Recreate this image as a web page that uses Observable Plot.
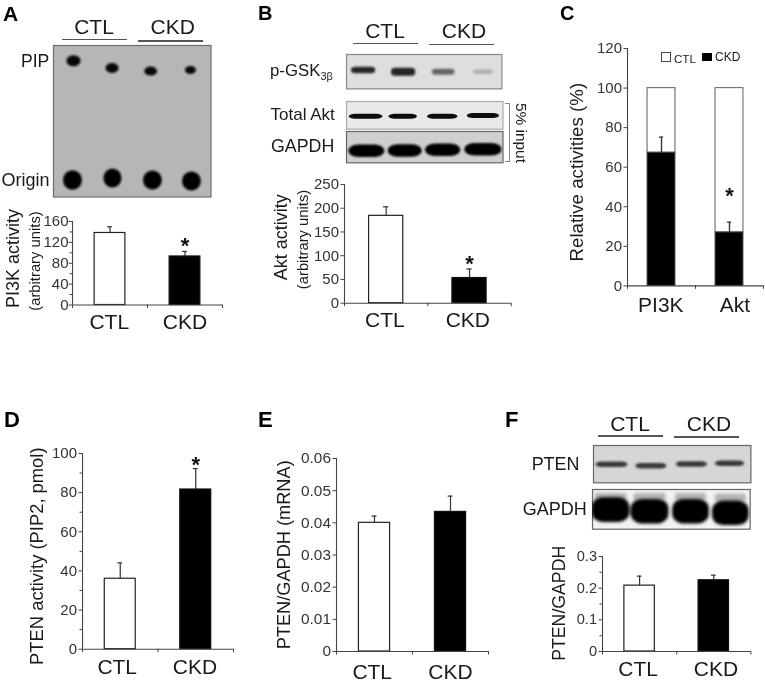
<!DOCTYPE html>
<html>
<head>
<meta charset="utf-8">
<script src="https://cdn.jsdelivr.net/npm/d3@7"></script>
<script src="https://cdn.jsdelivr.net/npm/@observablehq/plot@0.6"></script>
<style>
html,body{margin:0;padding:0;background:#fff;}
#page{position:relative;width:765px;height:681px;overflow:hidden;font-family:"Liberation Sans",Arial,sans-serif;color:#1a1a1a;filter:blur(0.35px);}
#page svg{position:absolute;background:transparent;overflow:visible;}
.t{position:absolute;white-space:nowrap;line-height:1;}
.r{position:absolute;background:#555;}
</style>
</head>
<body>
<div id="page"></div>
<script>
// ---------- chart data ----------
const groups = ["CTL", "CKD"];
const pi3kActivity = [138, 93];
const pi3kUpper = [150, 102.6];
const aktActivity = [184, 53];
const aktUpper = [203, 72];
const relativeCkd = [67.3, 27];
const relativeUpper = [75.2, 32.2];
const relativeGroups = ["PI3K", "Akt"];
const ptenActivity = [36, 81.6];
const ptenActivityUpper = [44.1, 92.3];
const ptenMrna = [0.04, 0.0434];
const ptenMrnaUpper = [0.0421, 0.0483];
const ptenProtein = [0.208, 0.225];
const ptenProteinUpper = [0.238, 0.241];

// ---------- blot readings: lane (0-4), migration (0-1), band width, thickness, darkness ----------
const pipLane = [0.52, 1.5, 2.48, 3.49], pipRun = [0.104, 0.152, 0.172, 0.165], pipW = [0.36, 0.33, 0.33, 0.28], pipH = [0.073, 0.066, 0.059, 0.053];
const originLane = [0.495, 1.51, 2.525, 3.515], originRun = [0.891, 0.878, 0.891, 0.898], originW = [0.48, 0.46, 0.48, 0.48], originH = [0.13, 0.125, 0.125, 0.125];
const gskLane = [0.44, 1.47, 2.5, 3.53], gskRun = [0.465, 0.515, 0.515, 0.515], gskW = [0.62, 0.62, 0.59, 0.51], gskH = [0.19, 0.23, 0.17, 0.13], gskDark = [0.85, 0.85, 0.6, 0.32];
const aktLane = [0.5, 1.45, 2.46, 3.5], aktRun = [0.55, 0.55, 0.55, 0.52], aktW = [0.85, 0.72, 0.77, 0.82];
const gapdhBLane = [0.52, 1.5, 2.47, 3.5], gapdhBRun = [0.63, 0.62, 0.6, 0.585], gapdhBW = [0.92, 0.87, 0.9, 0.95];
const ptenLane = [0.47, 1.47, 2.5, 3.47], ptenRun = [0.517, 0.555, 0.51, 0.49], ptenW = [0.81, 0.79, 0.79, 0.74];
const gapdhFLane = [0.47, 1.46, 2.5, 3.51], gapdhFRun = [0.52, 0.56, 0.56, 0.6], gapdhFW = [0.96, 0.96, 0.93, 0.93], gapdhFUpperRun = [0.2, 0.2, 0.2, 0.22];

const page = document.getElementById("page");
const FONT = '"Liberation Sans", Arial, sans-serif';

function bandTable(lane, run, w, h, dark) {
  return lane.map((l, i) => ({
    x1: l - w[i] / 2, x2: l + w[i] / 2,
    y1: run[i] - (Array.isArray(h) ? h[i] : h) / 2, y2: run[i] + (Array.isArray(h) ? h[i] : h) / 2,
    g: Math.round(255 * (1 - (Array.isArray(dark) ? dark[i] : dark)))
  }));
}

function text(str, x, baseline, size, o = {}) {
  const el = document.createElement("div");
  el.className = "t";
  el.innerHTML = str;
  el.style.fontSize = size + "px";
  el.style.top = (baseline - 0.8465 * size) + "px";
  if (o.center) { el.style.left = x + "px"; el.style.transform = "translateX(-50%)"; }
  else el.style.left = x + "px";
  if (o.weight) el.style.fontWeight = o.weight;
  if (o.color) el.style.color = o.color;
  page.appendChild(el);
  return el;
}
function rotText(str, cx, cy, size) {
  const el = document.createElement("div");
  el.className = "t";
  el.textContent = str;
  el.style.fontSize = size + "px";
  el.style.left = cx + "px";
  el.style.top = cy + "px";
  el.style.transform = "translate(-50%,-50%) rotate(90deg)";
  page.appendChild(el);
}
function rule(x, y, w, h, color = "#555") {
  const el = document.createElement("div");
  el.className = "r";
  el.style.cssText += `left:${x}px;top:${y}px;width:${w}px;height:${h}px;background:${color};`;
  page.appendChild(el);
  return el;
}
function header(ctlX, ckdX, baseline, ctlLine, ckdLine, lineY, lineY2) {
  text("CTL", ctlX, baseline, 21, {center: true});
  text("CKD", ckdX, baseline, 21, {center: true});
  rule(ctlLine[0], lineY, ctlLine[1] - ctlLine[0], 1.3);
  rule(ckdLine[0], lineY2, ckdLine[1] - ckdLine[0], 1.3);
}

function blot({left, right, top, bottom, fill, stroke = "#777", layers}) {
  const W = right - left, H = bottom - top;
  const svg = Plot.plot({
    width: W + 2, height: H + 2, margin: 1,
    x: {domain: [0, 4], axis: null},
    y: {domain: [1, 0], axis: null},
    color: {type: "identity"},
    marks: [
      Plot.frame({fill, stroke, strokeWidth: 1.2}),
      ...layers.map(({data, blur, rx = 60, ry = 60}) => Plot.rect(data, {
        x1: "x1", x2: "x2", y1: "y1", y2: "y2",
        fill: d => `rgb(${d.g},${d.g},${d.g})`,
        rx, ry, clip: true,
        imageFilter: `blur(${blur}px)`
      }))
    ]
  });
  svg.style.left = (left - 1) + "px";
  svg.style.top = (top - 1) + "px";
  page.appendChild(svg);
}

function barPanel(o) {
  const ml = 78, mr = 8, mt = 12, mb = 36;
  const plotW = o.right - o.axis, plotH = o.y0 - o.top;
  const rows = o.values.map((v, i) => ({
    name: o.labels[i], v, up: o.upper[i], i,
    x1: i + 0.295, x2: i + 0.705, cx: i + 0.5,
    capL: i + 0.5 - 0.032, capR: i + 0.5 + 0.032
  }));
  const marks = [];
  marks.push(Plot.ruleX(rows, {x: "cx", y1: "v", y2: "up", stroke: "#333", strokeWidth: 1.2}));
  marks.push(Plot.ruleY(rows, {y: "up", x1: "capL", x2: "capR", stroke: "#333", strokeWidth: 1.2}));
  if (o.stacked) {
    marks.push(Plot.rectY(rows, {x1: "x1", x2: "x2", y1: "v", y2: () => 100, fill: "none", stroke: "#777", strokeWidth: 1.2}));
    marks.push(Plot.rectY(rows, {x1: "x1", x2: "x2", y1: () => 0, y2: "v", fill: "#000", stroke: "#444", strokeWidth: 1}));
    marks.push(Plot.ruleX(rows, {x: "cx", y1: "v", y2: "up", stroke: "#333", strokeWidth: 1.2}));
  } else {
    marks.push(Plot.rectY(rows, {x1: "x1", x2: "x2", y1: () => 0, y2: "v",
      fill: d => d.i === 0 ? "#fff" : "#000", stroke: d => d.i === 0 ? "#222" : "#111", strokeWidth: 1.2}));
  }
  marks.push(
    Plot.ruleX([0], {stroke: "#444", strokeWidth: 1.1}),
    Plot.ruleY([0], {stroke: "#444", strokeWidth: 1.1}),
    Plot.axisX([0, 1, 2], {tickSize: 3.5, text: null, label: null, stroke: "#444"}),
    Plot.axisY(o.ticks, {tickSize: 3.5, tickPadding: o.tickPad ?? 2, fontSize: o.tickFont, label: null, stroke: "#444", color: "#333", tickFormat: o.fmt})
  );
  if (o.minor) marks.push(Plot.axisY(o.minor, {tickSize: 2.5, text: null, label: null, stroke: "#444"}));
  marks.push(Plot.text(rows, {
    x: (d, i) => o.labelAt[i], text: "name", frameAnchor: "bottom", lineAnchor: "bottom",
    dy: o.labelDy, fontSize: 21, fill: "#1a1a1a"
  }));
  if (o.star) marks.push(Plot.text(["*"], {
    x: () => o.star[0], y: () => o.star[1], text: d => d, fontSize: 22, fontWeight: "bold", dy: 5.7, fill: "#111"
  }));
  for (const [label, cx, cy, size] of o.yLabels) {
    marks.push(Plot.text([label], {
      frameAnchor: "top-left", text: d => d, rotate: -90, fontSize: size, fill: "#1a1a1a",
      dx: cx - o.axis, dy: cy - o.top, textAnchor: "middle", lineAnchor: "middle"
    }));
  }
  const svg = Plot.plot({
    width: plotW + ml + mr, height: plotH + mt + mb,
    marginLeft: ml, marginRight: mr, marginTop: mt, marginBottom: mb,
    x: {domain: [0, 2], label: null, axis: null},
    y: {domain: [0, o.ymax], label: null, axis: null},
    style: {fontFamily: FONT, background: "transparent"},
    marks
  });
  svg.style.left = (o.axis - ml) + "px";
  svg.style.top = (o.top - mt) + "px";
  page.appendChild(svg);
}

// ---------- panel letters ----------
[["A", 3, 20.5, 21], ["B", 258, 19.5, 20], ["C", 560, 19.5, 20], ["D", 4, 428, 22], ["E", 258, 428, 22], ["F", 505, 428, 22]]
  .forEach(([s, x, y, size]) => text(s, x, y, size, {weight: "bold", color: "#000"}));

// ---------- Panel A ----------
header(94, 172.7, 34, [62, 127], [138, 203], 39.2, 40.4);
blot({left: 52.5, right: 210, top: 45, bottom: 196.5, fill: "#b6b6b6", stroke: "#6e6e6e", layers: [
  {data: bandTable(pipLane, pipRun, pipW, pipH, 0.97), blur: 1},
  {data: bandTable(originLane, originRun, originW, originH, 1), blur: 1.2}
]});
text("PIP", 21, 68, 17.6);
text("Origin", 1.5, 186, 18);
barPanel({
  axis: 72, right: 222, top: 221, y0: 304.5, ymax: 160, tickPad: 0.5,
  values: pi3kActivity, upper: pi3kUpper, labels: groups, labelAt: [0.49, 1.5], labelDy: 24,
  ticks: [0, 40, 80, 120, 160], minor: [20, 60, 100, 140], fmt: d => String(d), tickFont: 15,
  star: [1.5, 123.6],
  yLabels: [["PI3K activity", 12.5, 258, 18], ["(arbitrary units)", 35, 260.5, 14.8]]
});

// ---------- Panel B ----------
header(385, 464, 38, [353, 417.7], [429, 494], 43, 43.6);
blot({left: 346.3, right: 501.7, top: 54.3, bottom: 88.7, fill: "#dedede", stroke: "#888", layers: [
  {data: bandTable(gskLane, gskRun, gskW, gskH, gskDark), blur: 0.9, rx: 4, ry: 3}
]});
blot({left: 345.5, right: 502, top: 101, bottom: 128.7, fill: "#e9e9e9", stroke: "#aaa", layers: [
  {data: bandTable(aktLane, aktRun, aktW, 0.18, 0.95), blur: 0.7, rx: 6, ry: 3}
]});
blot({left: 345.5, right: 502, top: 131, bottom: 162.3, fill: "#cfcfcf", stroke: "#666", layers: [
  {data: bandTable(gapdhBLane, gapdhBRun, gapdhBW, 0.4, 1), blur: 0.8, rx: 10, ry: 6}
]});
text('p-GSK<sub style="font-size:11px;vertical-align:-4px;line-height:0">3β</sub>', 270, 77.5, 16.8);
text("Total Akt", 270.5, 120, 17);
text("GAPDH", 271, 153.5, 17.8);
rule(505, 103, 4, 1, "#888"); rule(505, 161, 4, 1, "#888"); rule(508.5, 103, 1, 59, "#888");
rotText("5% input", 520.7, 133, 15.4);
barPanel({
  axis: 344.3, right: 511, top: 184, y0: 302.7, ymax: 250,
  values: aktActivity, upper: aktUpper, labels: groups, labelAt: [0.485, 1.48], labelDy: 24,
  ticks: [0, 50, 100, 150, 200, 250], fmt: d => String(d), tickFont: 15,
  star: [1.5, 95.6],
  yLabels: [["Akt activity", 280.7, 236.7, 18], ["(arbitrary units)", 302.7, 239, 14.8]]
});

// ---------- Panel C ----------
barPanel({
  axis: 626.7, right: 762.7, top: 48.3, y0: 285.7, ymax: 120, stacked: true,
  values: relativeCkd, upper: relativeUpper, labels: relativeGroups, labelAt: [0.49, 1.58], labelDy: 26,
  ticks: [0, 20, 40, 60, 80, 100, 120], fmt: d => String(d), tickFont: 15,
  star: [1.5, 48.4],
  yLabels: [["Relative activities (%)", 576.7, 172, 18.7]]
});
const sq1 = rule(660.5, 51.5, 8, 8, "#fff"); sq1.style.border = "1px solid #444";
rule(702, 52.5, 9.5, 8.5, "#000");
text("CTL", 674, 63, 11.6);
text("CKD", 715, 61.5, 12);

// ---------- Panel D ----------
barPanel({
  axis: 81.7, right: 232.7, top: 453.3, y0: 649, ymax: 100,
  values: ptenActivity, upper: ptenActivityUpper, labels: groups, labelAt: [0.46, 1.49], labelDy: 25,
  ticks: [0, 20, 40, 60, 80, 100], minor: [10, 30, 50, 70, 90], fmt: d => String(d), tickFont: 15,
  star: [1.5, 97],
  yLabels: [["PTEN activity (PIP2, pmol)", 36, 556, 18.4]]
});

// ---------- Panel E ----------
barPanel({
  axis: 336, right: 488, top: 457.7, y0: 650.7, ymax: 0.06,
  values: ptenMrna, upper: ptenMrnaUpper, labels: groups, labelAt: [0.47, 1.5], labelDy: 27,
  ticks: [0, 0.01, 0.02, 0.03, 0.04, 0.05, 0.06], fmt: d => String(d), tickFont: 15.4,
  yLabels: [["PTEN/GAPDH (mRNA)", 284, 554, 18.2]]
});

// ---------- Panel F ----------
header(630, 709, 430.7, [598, 662.7], [674, 739], 435.3, 436.4);
blot({left: 593.3, right: 750.7, top: 445, bottom: 482.3, fill: "#d6d6d6", stroke: "#666", layers: [
  {data: bandTable(ptenLane, ptenRun, ptenW, 0.15, 0.78), blur: 0.9, rx: 6, ry: 3}
]});
blot({left: 592.3, right: 750, top: 489.3, bottom: 529, fill: "#f2f2f2", stroke: "#666", layers: [
  {data: bandTable(gapdhFLane, gapdhFUpperRun, gapdhFW.map(w => w * 0.85), 0.2, 0.3), blur: 1.6, rx: 3, ry: 3},
  {data: bandTable(gapdhFLane, gapdhFRun, gapdhFW, 0.62, 1), blur: 1.4, rx: 11, ry: 10}
]});
text("PTEN", 531.7, 471.5, 17.9);
text("GAPDH", 522.7, 515.5, 18);
barPanel({
  axis: 602.3, right: 750.7, top: 555.7, y0: 650.7, ymax: 0.3,
  values: ptenProtein, upper: ptenProteinUpper, labels: groups, labelAt: [0.48, 1.53], labelDy: 24.5,
  ticks: [0, 0.1, 0.2, 0.3], minor: [0.05, 0.15, 0.25], fmt: d => String(d), tickFont: 14.6,
  yLabels: [["PTEN/GAPDH", 559, 602.5, 17.7]]
});
</script>
</body>
</html>
